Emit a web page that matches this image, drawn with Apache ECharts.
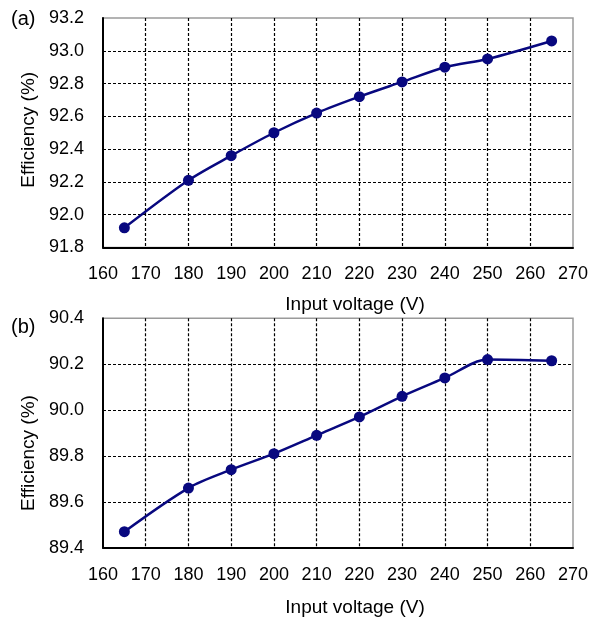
<!DOCTYPE html>
<html>
<head>
<meta charset="utf-8">
<script src="https://cdn.jsdelivr.net/npm/echarts@6/dist/echarts.min.js"></script>
<style>
  html, body { margin: 0; padding: 0; background: #fff; }
  #chart { width: 600px; height: 621px; }
</style>
</head>
<body>
<div id="chart"></div>
<script>
// input voltage (V)
const voltage = [165, 180, 190, 200, 210, 220, 230, 240, 250, 265];
// (a) efficiency (%)
const effA = [91.92, 92.21, 92.36, 92.50, 92.62, 92.72, 92.81, 92.90, 92.95, 93.06];
// (b) efficiency (%)
const effB = [89.47, 89.66, 89.74, 89.81, 89.89, 89.97, 90.06, 90.14, 90.22, 90.215];

const FONT = "'Liberation Sans', Arial, sans-serif";
const lineColor = "#08087f";

const myChart = echarts.init(document.getElementById("chart"), null, { renderer: "canvas" });

const dashed = {
  show: true,
  showMinLine: false,
  showMaxLine: false,
  lineStyle: { color: "#000", width: 1.2, type: [3, 2] },
};

const makeX = (gridIndex, nameGap) => ({
  type: "value",
  gridIndex: gridIndex,
  min: 160,
  max: 270,
  interval: 10,
  name: "Input voltage (V)",
  nameLocation: "middle",
  nameGap: nameGap,
  nameTextStyle: { fontSize: 19, color: "#000", fontFamily: FONT, padding: [0, 0, 0, 34] },
  axisLine: { show: true, lineStyle: { color: "#000", width: 2 } },
  axisTick: { show: false },
  axisLabel: { fontSize: 18, color: "#000", fontFamily: FONT, margin: 18 },
  splitLine: dashed,
});

const makeY = (gridIndex, min, max, pad) => ({
  type: "value",
  gridIndex: gridIndex,
  min: min,
  max: max,
  interval: 0.2,
  name: "Efficiency (%)",
  nameLocation: "middle",
  nameGap: 60,
  nameTextStyle: { fontSize: 19, color: "#000", fontFamily: FONT, padding: pad },
  axisLine: { show: true, lineStyle: { color: "#000", width: 2 } },
  axisTick: { show: false },
  axisLabel: {
    fontSize: 18,
    color: "#000",
    fontFamily: FONT,
    margin: 19,
    formatter: (v) => v.toFixed(1),
  },
  splitLine: dashed,
});

const makeSeries = (idx, values) => ({
  type: "line",
  xAxisIndex: idx,
  yAxisIndex: idx,
  data: voltage.map((v, i) => [v, values[i]]),
  smooth: 0.3,
  symbol: "circle",
  symbolSize: 11,
  lineStyle: { color: lineColor, width: 2.5 },
  itemStyle: { color: lineColor },
  silent: true,
  z: 3,
});

const option = {
  animation: false,
  backgroundColor: "#fff",
  title: [
    { text: "(a)", left: 6, top: 4, textStyle: { fontSize: 20, fontWeight: "normal", color: "#000", fontFamily: FONT } },
    { text: "(b)", left: 6, top: 312, textStyle: { fontSize: 20, fontWeight: "normal", color: "#000", fontFamily: FONT } },
  ],
  grid: [
    { left: 103, width: 470, top: 18, height: 229.5, show: true, borderColor: "#9a9a9a", borderWidth: 1.5, backgroundColor: "transparent" },
    { left: 103, width: 470, top: 318.3, height: 229.4, show: true, borderColor: "#9a9a9a", borderWidth: 1.5, backgroundColor: "transparent" },
  ],
  xAxis: [makeX(0, 48), makeX(1, 51)],
  yAxis: [makeY(0, 91.8, 93.2, [0, 0, 0, 6]), makeY(1, 89.4, 90.4, [0, 40, 0, 0])],
  series: [makeSeries(0, effA), makeSeries(1, effB)],
};

myChart.setOption(option);
</script>
</body>
</html>
